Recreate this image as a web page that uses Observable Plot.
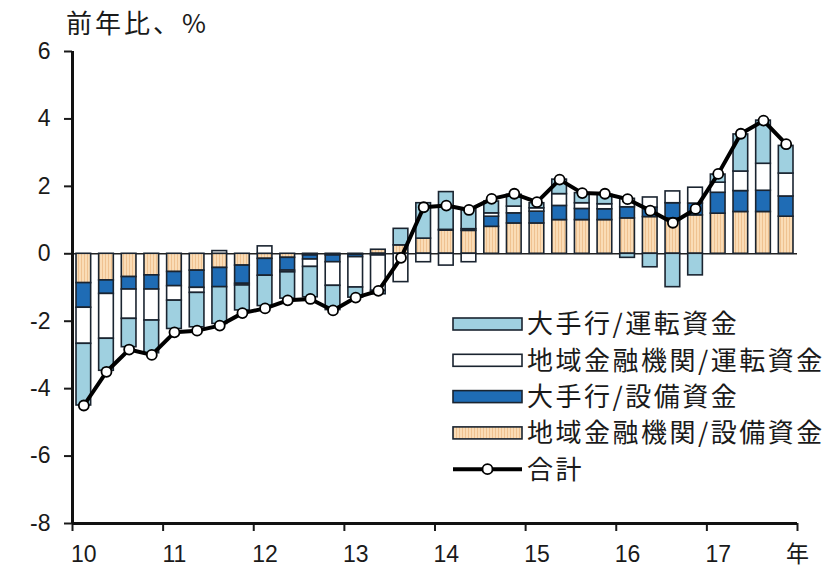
<!DOCTYPE html>
<html><head><meta charset="utf-8">
<script src="https://cdn.jsdelivr.net/npm/d3@7"></script>
<script src="https://cdn.jsdelivr.net/npm/@observablehq/plot@0.6"></script>
<style>
body{margin:0;background:#fff;}
#chart svg{display:block;}
</style></head><body><div id="chart"></div>
<script>
// ---- data (quarterly, 2010Q1 – 2017Q4) ----
const quarters = ["10Q1","10Q2","10Q3","10Q4","11Q1","11Q2","11Q3","11Q4",
  "12Q1","12Q2","12Q3","12Q4","13Q1","13Q2","13Q3","13Q4",
  "14Q1","14Q2","14Q3","14Q4","15Q1","15Q2","15Q3","15Q4",
  "16Q1","16Q2","16Q3","16Q4","17Q1","17Q2","17Q3","17Q4"];
const yearLabels = ["10","11","12","13","14","15","16","17"];
const unitLabel = "年";
const yTicks = [-8,-6,-4,-2,0,2,4,6];
const title = "前年比、%";
const seriesNames = ["大手行/運転資金","地域金融機関/運転資金","大手行/設備資金","地域金融機関/設備資金"];
const totalLabel = "合計";

const largeWorking = [-1.83,-0.95,-0.84,-0.97,-0.84,-1.02,-1.09,-0.74,
  -0.90,-0.78,-0.90,-0.72,-0.30,-0.10,0.49,1.05,
  1.12,0.62,0.35,0.35,0.15,0.43,0.30,0.28,
  -0.12,-0.40,-0.99,-0.64,0.24,1.10,1.28,0.82];
const regionalWorking = [-1.07,-1.33,-0.87,-0.92,-0.43,-0.15,0.08,-0.05,
  0.22,-0.05,-0.22,-0.70,-0.90,-1.05,-0.84,-0.25,
  -0.35,-0.25,0.10,0.20,0.10,0.35,0.17,0.15,
  0.25,0.30,0.35,0.47,0.30,0.58,0.80,0.68];
const largeCapex = [-0.73,-0.40,-0.37,-0.42,-0.42,-0.51,-0.57,-0.54,
  -0.50,-0.38,-0.12,-0.20,-0.07,-0.05,0,0,
  0.02,0.05,0.30,0.30,0.35,0.42,0.33,0.32,
  0.33,0.28,0.45,0.35,0.62,0.62,0.63,0.60];
const regionalCapex = [-0.87,-0.79,-0.69,-0.64,-0.54,-0.50,-0.42,-0.35,
  -0.15,-0.12,-0.05,-0.05,-0.03,0.12,0.25,0.45,
  0.69,0.68,0.80,0.90,0.90,1.00,1.00,1.00,
  1.05,1.09,1.05,1.14,1.19,1.24,1.24,1.10];
const total = [-4.50,-3.50,-2.84,-3.00,-2.33,-2.28,-2.13,-1.76,
  -1.62,-1.38,-1.34,-1.68,-1.30,-1.10,-0.12,1.38,
  1.43,1.30,1.63,1.78,1.53,2.20,1.80,1.78,
  1.62,1.28,0.92,1.33,2.37,3.56,3.95,3.25];

// ---- build tables ----
const seriesColors = ["#9fd0e0","#ffffff","#1f6cb5","url(#stripes)"];
const stackOrder = [[seriesNames[3], regionalCapex],[seriesNames[2], largeCapex],
                    [seriesNames[1], regionalWorking],[seriesNames[0], largeWorking]];
const bars = [];
quarters.forEach((q, i) => stackOrder.forEach(([s, arr]) => {
  if (arr[i] !== 0) bars.push({i, q, series: s, value: arr[i]});
}));
const totals = total.map((v, i) => ({i, q: quarters[i], value: v}));
const nQ = quarters.length;
const labelPos = yearLabels.map((_, k) => k * 4 + 0.5).concat([nQ]);
const labelText = new Map(labelPos.map((p, k) => [p, yearLabels.concat([unitLabel])[k]]));
const edge = "#1a2430";

const svg = Plot.plot({
  width: 839, height: 577,
  marginTop: 51, marginBottom: 54, marginLeft: 72, marginRight: 42,
  style: {fontFamily: "'Liberation Sans', Arial, 'Noto Sans CJK JP', sans-serif", background: "#fff", color: "#1a1a1a"},
  x: {type: "linear", domain: [0, nQ], axis: null},
  y: {domain: [-8, 6], axis: null},
  color: {domain: seriesNames, range: seriesColors},
  marks: [
    Plot.ruleY([0], {stroke: "#222", strokeWidth: 1.5}),
    Plot.rectY(bars, {x1: "i", x2: d => d.i + 1, y: "value", fill: "series",
      stroke: edge, strokeWidth: 1.6, insetLeft: 4, insetRight: 4}),
    Plot.line(totals, {x: d => d.i + 0.5, y: "value", stroke: "#000", strokeWidth: 4}),
    Plot.dot(totals, {x: d => d.i + 0.5, y: "value", r: 5, fill: "#fff", stroke: "#000", strokeWidth: 1.8}),
    Plot.axisY({ticks: yTicks, tickSize: 8, tickPadding: 14, fontSize: 23, strokeWidth: 2,
      label: null, tickFormat: d => String(d)}),
    Plot.axisX({ticks: d3.range(0, nQ + 1, 4), tickSize: 8, strokeWidth: 2, label: null, tickFormat: () => ""}),
    Plot.axisX({ticks: labelPos, tickSize: 0, tickPadding: 22, fontSize: 23, label: null,
      tickFormat: d => labelText.get(d)}),
    Plot.ruleX([0], {y1: -8, y2: 6, stroke: "#111", strokeWidth: 3}),
    Plot.ruleY([-8], {stroke: "#111", strokeWidth: 3})
  ]
});

const root = d3.select(svg);
const defs = root.insert("defs", ":first-child");
const pat = defs.append("pattern").attr("id", "stripes").attr("patternUnits", "userSpaceOnUse")
  .attr("width", 3).attr("height", 3);
pat.append("rect").attr("width", 3).attr("height", 3).attr("fill", "#fadcb6");
pat.append("rect").attr("width", 1).attr("height", 3).attr("fill", "#efc291");

const cjk = "'Noto Sans CJK JP', 'Noto Sans CJK SC', sans-serif";
root.append("text").attr("x", 66).attr("y", 33).attr("font-family", cjk).attr("text-anchor", "start")
  .attr("font-size", 26).attr("letter-spacing", 3).attr("fill", "#1a1a1a").text(title);

// legend
const lg = root.append("g").attr("font-family", cjk).attr("font-size", 26).attr("fill", "#1a1a1a")
  .attr("text-anchor", "start");
seriesNames.forEach((name, k) => {
  const cy = 324 + k * 36.3;
  lg.append("rect").attr("x", 453).attr("y", cy - 6).attr("width", 69).attr("height", 12)
    .attr("fill", seriesColors[k]).attr("stroke", edge).attr("stroke-width", 1.6);
  lg.append("text").attr("x", 527).attr("y", cy).attr("dy", "0.36em").attr("letter-spacing", 2.5).text(name);
});
{
  const cy = 324 + 4 * 36.3;
  lg.append("line").attr("x1", 453).attr("x2", 522).attr("y1", cy).attr("y2", cy)
    .attr("stroke", "#000").attr("stroke-width", 4);
  lg.append("circle").attr("cx", 487.5).attr("cy", cy).attr("r", 5).attr("fill", "#fff")
    .attr("stroke", "#000").attr("stroke-width", 1.8);
  lg.append("text").attr("x", 527).attr("y", cy).attr("dy", "0.36em").attr("letter-spacing", 2.5).text(totalLabel);
}

document.getElementById("chart").appendChild(svg);
</script></body></html>
